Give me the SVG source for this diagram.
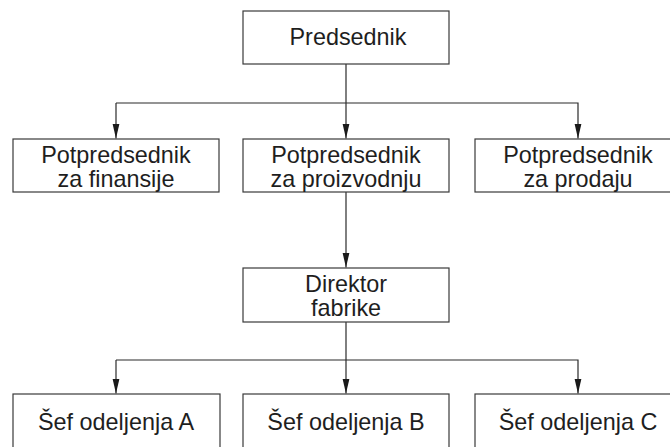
<svg xmlns="http://www.w3.org/2000/svg" width="670" height="447" viewBox="0 0 670 447">
  <style>
    .box { fill: #ffffff; stroke: #3a3a3a; stroke-width: 1.2; }
    .lbl { font-family: "Liberation Sans", Arial, sans-serif; font-size: 23.4px; fill: #1e1e1e; text-anchor: middle; }
    .wire { fill: none; stroke: #2a2a2a; stroke-width: 1.2; }
  </style>
  <defs>
    <marker id="arrow" viewBox="0 0 15 14" refX="15" refY="7" markerWidth="15" markerHeight="14" markerUnits="userSpaceOnUse" orient="auto">
      <path d="M0,3.5 L15,7 L0,10.5 Z" fill="#1a1a1a"/>
    </marker>
  </defs>
  <rect width="670" height="447" fill="#ffffff"/>

  <!-- connectors -->
  <g id="connectors" class="wire">
    <line x1="346" y1="64" x2="346" y2="138.5" marker-end="url(#arrow)"/>
    <polyline points="116,103 578,103 578,138.5" marker-end="url(#arrow)"/>
    <line x1="116" y1="103" x2="116" y2="138.5" marker-end="url(#arrow)"/>
    <line x1="346" y1="192" x2="346" y2="267.5" marker-end="url(#arrow)"/>
    <line x1="346" y1="322" x2="346" y2="393.5" marker-end="url(#arrow)"/>
    <polyline points="116,360 578,360 578,393.5" marker-end="url(#arrow)"/>
    <line x1="116" y1="360" x2="116" y2="393.5" marker-end="url(#arrow)"/>
  </g>

  <g id="predsednik">
    <rect class="box" x="243" y="11" width="206" height="53"/>
    <text class="lbl" x="348" y="45">Predsednik</text>
  </g>

  <g id="vp-finansije">
    <rect class="box" x="13" y="139" width="206" height="53"/>
    <text class="lbl" x="116" y="163">Potpredsednik</text>
    <text class="lbl" x="116" y="187">za finansije</text>
  </g>

  <g id="vp-proizvodnja">
    <rect class="box" x="243" y="139" width="206" height="53"/>
    <text class="lbl" x="346" y="163">Potpredsednik</text>
    <text class="lbl" x="346" y="187">za proizvodnju</text>
  </g>

  <g id="vp-prodaja">
    <rect class="box" x="475" y="139" width="210" height="53"/>
    <text class="lbl" x="578" y="163">Potpredsednik</text>
    <text class="lbl" x="578" y="187">za prodaju</text>
  </g>

  <g id="direktor">
    <rect class="box" x="243" y="268" width="206" height="54"/>
    <text class="lbl" x="346" y="292">Direktor</text>
    <text class="lbl" x="346" y="316">fabrike</text>
  </g>

  <g id="sef-a">
    <rect class="box" x="13" y="394" width="207" height="70"/>
    <text class="lbl" x="116" y="430">Šef odeljenja A</text>
  </g>

  <g id="sef-b">
    <rect class="box" x="243" y="394" width="206" height="70"/>
    <text class="lbl" x="346" y="430">Šef odeljenja B</text>
  </g>

  <g id="sef-c">
    <rect class="box" x="475" y="394" width="210" height="70"/>
    <text class="lbl" x="578" y="430">Šef odeljenja C</text>
  </g>
</svg>
